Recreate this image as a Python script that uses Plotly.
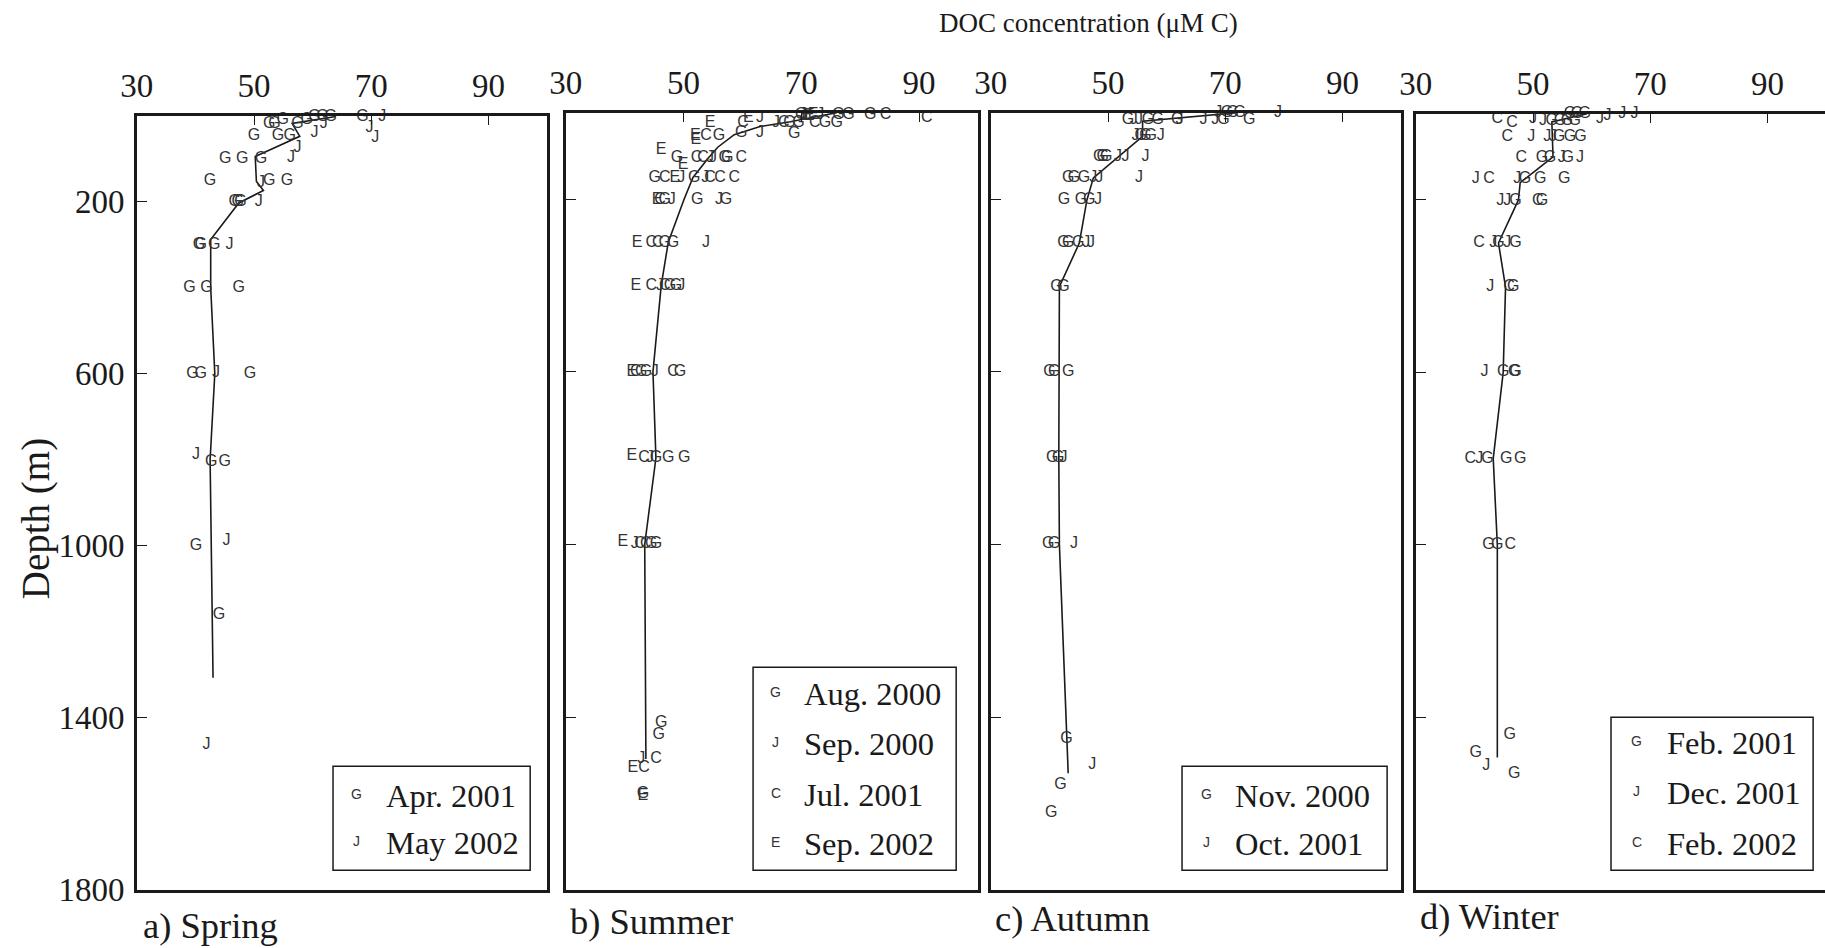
import plotly.graph_objects as go

# ---------------- DATA (DOC in µM C, depth in m) ----------------
# a) Spring
spr_apr01_doc = [60.3, 61.7, 63.1, 68.5, 52.6, 53.5, 54.9, 57.4, 59.0, 50.0, 54.1, 56.1, 45.1, 48.0, 51.2,
                 42.5, 52.6, 55.6, 46.7, 47.2, 47.7, 40.6, 40.9, 43.2, 39.0, 41.9, 47.4, 39.5, 40.9, 49.3,
                 42.7, 45.0, 40.1, 44.0]
spr_apr01_depth = [3, 3, 3, 2, 20, 20, 9, 20, 9, 48, 48, 48, 102, 102, 102,
                   153, 153, 153, 200, 200, 200, 300, 300, 300, 400, 400, 400, 600, 600, 600,
                   805, 805, 1000, 1160]
spr_may02_doc = [71.9, 61.9, 69.7, 60.3, 70.7, 57.4, 56.3, 51.2, 50.8, 45.8, 43.5, 40.1, 45.3, 41.9]
spr_may02_depth = [2, 20, 28, 40, 53, 75, 98, 157, 200, 300, 598, 790, 990, 1463]
spr_mean_doc = [64.0, 56.5, 57.8, 50.2, 50.4, 51.6, 47.4, 42.6, 42.6, 43.3, 42.5, 42.7, 43.0]
spr_mean_depth = [2, 18, 48, 95, 153, 174, 203, 288, 400, 600, 800, 1000, 1307]

# b) Summer
sum_aug00_doc = [70.0, 76.3, 78.0, 81.7, 68.0, 69.5, 74.0, 76.0, 59.8, 68.8, 56.0, 48.9, 57.0, 57.4,
                 45.1, 51.8, 46.8, 52.3, 57.2, 46.8, 48.2, 47.7, 48.7, 42.8, 43.6, 49.4, 45.3, 47.4, 50.1,
                 44.5, 45.3, 46.2, 45.8, 43.1]
sum_aug00_depth = [5, 5, 5, 5, 23, 23, 23, 23, 47, 50, 53, 105, 105, 105,
                   151, 151, 202, 202, 202, 302, 302, 401, 401, 601, 601, 601, 801, 801, 801,
                   1000, 1000, 1413, 1441, 1578]
sum_sep00_doc = [70.3, 73.2, 63.0, 70.5, 65.7, 63.0, 54.5, 55.0, 49.6, 53.7, 48.0, 56.0, 53.8, 46.0,
                 49.6, 45.1, 44.3, 41.7, 42.8]
sum_sep00_depth = [5, 5, 12, 7, 23, 47, 105, 105, 151, 151, 202, 202, 302, 401,
                   401, 601, 801, 1000, 1497]
sum_jul01_doc = [84.3, 91.3, 71.0, 60.1, 67.0, 72.3, 53.8, 52.2, 53.3, 59.8, 46.8, 54.5, 56.2, 58.6,
                 46.0, 44.5, 45.6, 44.5, 46.8, 41.9, 48.2, 43.3, 42.6, 43.6, 45.3, 43.3]
sum_jul01_depth = [5, 12, 7, 23, 23, 23, 53, 105, 105, 105, 151, 151, 151, 151,
                   202, 302, 302, 401, 401, 601, 601, 801, 1000, 1000, 1497, 1517]
sum_sep02_doc = [72.0, 71.3, 61.0, 54.5, 52.0, 52.1, 46.2, 49.9, 48.5, 45.5, 42.1, 41.9, 41.2, 41.2,
                 39.7, 41.4, 43.1]
sum_sep02_depth = [5, 7, 12, 23, 53, 63, 86, 121, 151, 202, 302, 401, 601, 796,
                   995, 1517, 1582]
sum_mean_doc = [76.0, 72.5, 68.1, 63.0, 58.6, 55.8, 54.2, 51.6, 50.1, 47.4, 46.2, 44.8, 45.3, 43.4, 43.6]
sum_mean_depth = [0, 9, 21, 32, 51, 80, 105, 150, 200, 300, 400, 600, 800, 1000, 1497]

# c) Autumn
aut_nov00_doc = [70.3, 71.3, 72.5, 53.4, 56.8, 58.5, 61.8, 69.7, 74.1, 55.6, 56.4, 57.3, 48.5, 49.1, 49.7,
                 43.2, 44.2, 45.9, 42.5, 45.4, 46.8, 42.4, 43.2, 44.9, 41.2, 42.4, 40.0, 40.8, 43.2,
                 40.5, 41.5, 39.8, 40.8, 42.9, 41.9, 40.3]
aut_nov00_depth = [0, 0, 0, 16, 16, 16, 16, 16, 18, 53, 53, 53, 102, 102, 102,
                   151, 151, 151, 202, 202, 202, 302, 302, 302, 403, 403, 600, 600, 600,
                   800, 800, 1000, 1000, 1450, 1557, 1622]
aut_oct01_doc = [68.8, 79.0, 54.4, 55.3, 62.2, 66.3, 68.3, 54.7, 59.0, 51.7, 53.0, 56.4, 47.5, 48.5, 55.3,
                 48.3, 46.3, 47.1, 42.4, 44.2, 47.3]
aut_oct01_depth = [0, 0, 16, 16, 16, 16, 16, 53, 53, 102, 102, 102, 151, 151, 151,
                   202, 302, 302, 800, 1000, 1511]
aut_mean_doc = [72.0, 55.9, 55.9, 47.5, 46.4, 45.1, 41.7, 41.6, 41.6, 41.7, 43.2]
aut_mean_depth = [0, 20, 55, 151, 202, 302, 403, 600, 800, 1000, 1530]

# d) Winter
win_feb01_doc = [56.3, 57.5, 58.8, 53.2, 54.6, 55.8, 57.1, 54.4, 56.3, 58.1, 51.5, 52.9, 55.9,
                 48.6, 51.2, 55.3, 47.0, 51.5, 44.1, 47.0, 46.6, 44.9, 46.8, 47.0, 42.2, 45.4, 47.8,
                 42.4, 43.9, 46.0, 40.2, 46.8]
win_feb01_depth = [0, 0, 0, 16, 16, 16, 16, 53, 53, 53, 102, 102, 102,
                   151, 151, 151, 202, 202, 300, 300, 402, 600, 600, 600, 800, 800, 800,
                   1000, 1000, 1442, 1482, 1531]
win_dec01_doc = [62.7, 61.4, 65.2, 67.3, 50.0, 51.7, 49.7, 52.4, 53.4, 54.9, 58.0, 40.2, 47.3,
                 44.4, 45.6, 43.2, 45.6, 42.7, 41.7, 40.8, 42.0]
win_dec01_depth = [5, 12, 0, 0, 12, 16, 53, 53, 53, 102, 102, 151, 151,
                   202, 202, 300, 300, 402, 600, 800, 1512]
win_feb02_doc = [43.9, 46.4, 45.6, 48.0, 42.5, 50.8, 40.8, 45.9, 39.3, 46.1]
win_feb02_depth = [12, 21, 53, 102, 151, 202, 300, 402, 800, 1000]
win_mean_doc = [59.2, 53.2, 53.4, 47.8, 47.5, 44.1, 45.3, 44.9, 43.2, 43.9, 43.9]
win_mean_depth = [0, 19, 100, 160, 200, 300, 402, 600, 800, 1000, 1493]

x_ticks = [30, 50, 70, 90]
y_ticks = [200, 600, 1000, 1400, 1800]

# ---------------- FIGURE ----------------
W, H = 1825, 948
def px(x): return x / W
def py(y): return 1 - y / H

SERIF = "Liberation Serif"
SANS = "Liberation Sans"
INK = "#1a1a1a"
MARK = "#333333"
LEG_FONT = 32.5
LAB_FONT = 36.5

panels = [
    dict(x0=121, x1=535, y0=118, y1=908, xmax=100, mirror=True, label="a) Spring", lx=125, lc=944,
         series=[("G", spr_apr01_doc, spr_apr01_depth), ("J", spr_may02_doc, spr_may02_depth)],
         mean=(spr_mean_doc, spr_mean_depth),
         legend=dict(box=(319, 782, 518, 888), lx=343, tx=370, ys=[810, 858],
                     items=[("G", "Apr. 2001"), ("J", "May 2002")])),
    dict(x0=554, x1=970, y0=115, y1=908, xmax=100, mirror=True, label="b) Summer", lx=556, lc=940,
         series=[("G", sum_aug00_doc, sum_aug00_depth), ("J", sum_sep00_doc, sum_sep00_depth),
                 ("C", sum_jul01_doc, sum_jul01_depth), ("E", sum_sep02_doc, sum_sep02_depth)],
         mean=(sum_mean_doc, sum_mean_depth),
         legend=dict(box=(743, 681, 948, 888), lx=766, tx=792, ys=[706, 757, 809, 859],
                     items=[("G", "Aug. 2000"), ("J", "Sep. 2000"), ("C", "Jul. 2001"), ("E", "Sep. 2002")])),
    dict(x0=983, x1=1397, y0=115, y1=908, xmax=100, mirror=True, label="c) Autumn", lx=985, lc=937,
         series=[("G", aut_nov00_doc, aut_nov00_depth), ("J", aut_oct01_doc, aut_oct01_depth)],
         mean=(aut_mean_doc, aut_mean_depth),
         legend=dict(box=(1176, 782, 1383, 888), lx=1201, tx=1227, ys=[810, 859],
                     items=[("G", "Nov. 2000"), ("J", "Oct. 2001")])),
    dict(x0=1412, x1=1825, y0=116, y1=908, xmax=99.8, mirror=False, label="d) Winter", lx=1414, lc=935,
         series=[("G", win_feb01_doc, win_feb01_depth), ("J", win_dec01_doc, win_dec01_depth),
                 ("C", win_feb02_doc, win_feb02_depth)],
         mean=(win_mean_doc, win_mean_depth),
         legend=dict(box=(1609, 732, 1813, 888), lx=1635, tx=1663, ys=[756, 807, 859],
                     items=[("G", "Feb. 2001"), ("J", "Dec. 2001"), ("C", "Feb. 2002")])),
]

fig = go.Figure()
shapes = []
annotations = []

for i, p in enumerate(panels):
    n = "" if i == 0 else str(i + 1)
    xa, ya = "x" + n, "y" + n
    fig.update_layout(**{
        "xaxis" + n: dict(domain=[px(p["x0"]), px(p["x1"])], anchor=ya, side="top",
                          range=[30, p["xmax"]], tickvals=x_ticks, ticks="inside", ticklen=10,
                          tickwidth=1, tickcolor=INK, showline=True, mirror=True, linecolor=INK,
                          linewidth=2.5, showgrid=False, zeroline=False, ticklabelstandoff=3,
                          tickfont=dict(family=SERIF, size=33, color=INK)),
        "yaxis" + n: dict(domain=[py(p["y1"]), py(p["y0"])], anchor=xa,
                          range=[1800, 0], tickvals=y_ticks, ticks="inside", ticklen=10,
                          tickwidth=1, tickcolor=INK, showticklabels=(i == 0),
                          showline=True, mirror=p["mirror"], linecolor=INK, linewidth=2.5,
                          showgrid=False, zeroline=False, ticklabelstandoff=3,
                          tickfont=dict(family=SERIF, size=33, color=INK)),
    })
    md, mz = p["mean"]
    fig.add_trace(go.Scatter(x=md, y=mz, mode="lines", xaxis=xa, yaxis=ya,
                             line=dict(color=INK, width=1.6), showlegend=False, hoverinfo="skip"))
    for letter, doc, dep in p["series"]:
        fig.add_trace(go.Scatter(x=doc, y=dep, mode="text", text=[letter] * len(doc),
                                 textposition="middle center", xaxis=xa, yaxis=ya, cliponaxis=False,
                                 textfont=dict(family=SANS, size=16, color=MARK), showlegend=False))
    # panel label
    annotations.append(dict(text=p["label"], x=px(p["lx"]), y=py(p["lc"]), xref="paper", yref="paper",
                            xanchor="left", yanchor="middle", showarrow=False,
                            font=dict(family=SERIF, size=LAB_FONT, color=INK)))
    # legend box
    lg = p["legend"]
    bx0, by0, bx1, by1 = lg["box"]
    shapes.append(dict(type="rect", xref="paper", yref="paper", x0=px(bx0), x1=px(bx1), y0=py(by1), y1=py(by0),
                       line=dict(color=INK, width=1.5), fillcolor="white", layer="above"))
    for (letter, name), yy in zip(lg["items"], lg["ys"]):
        annotations.append(dict(text=letter, x=px(lg["lx"]), y=py(yy), xref="paper", yref="paper",
                                xanchor="center", yanchor="middle", showarrow=False,
                                font=dict(family=SANS, size=14, color=MARK)))
        annotations.append(dict(text=name, x=px(lg["tx"]), y=py(yy + 2), xref="paper", yref="paper",
                                xanchor="left", yanchor="middle", showarrow=False,
                                font=dict(family=SERIF, size=LEG_FONT, color=INK)))

annotations.append(dict(text="DOC concentration (μM C)", x=px(1082), y=py(23), xref="paper", yref="paper",
                        xanchor="center", yanchor="middle", showarrow=False,
                        font=dict(family=SERIF, size=27, color=INK)))
annotations.append(dict(text="Depth (m)", x=px(20), y=py(529), xref="paper", yref="paper",
                        xanchor="center", yanchor="middle", showarrow=False, textangle=-90,
                        font=dict(family=SERIF, size=39, color=INK)))

fig.update_layout(width=W, height=H, margin=dict(l=0, r=0, t=0, b=0),
                  paper_bgcolor="white", plot_bgcolor="white",
                  shapes=shapes, annotations=annotations, showlegend=False)

fig.write_html("out.html")
